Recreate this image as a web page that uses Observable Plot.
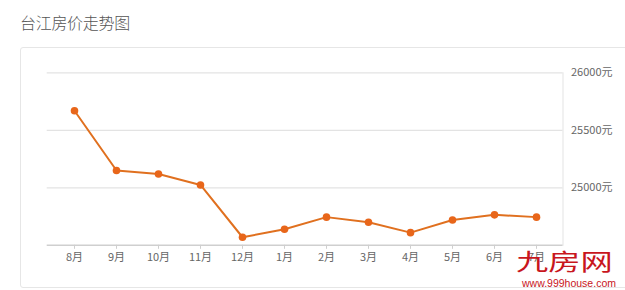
<!DOCTYPE html>
<html>
<head>
<meta charset="utf-8">
<script src="https://cdn.jsdelivr.net/npm/d3@7"></script>
<script src="https://cdn.jsdelivr.net/npm/@observablehq/plot@0.6"></script>
<style>
  html, body { margin: 0; padding: 0; background: #fff; width: 625px; height: 290px; overflow: hidden; }
  body { font-family: "Noto Sans CJK SC", "Noto Sans", sans-serif; position: relative; }
  #title { position: absolute; left: 20px; top: 10px; font-size: 16px; color: #555; letter-spacing: -0.3px; font-weight: 300; }
  #frame { position: absolute; left: 20px; top: 47px; width: 640px; height: 241px; border: 1px solid #e6e6e6; border-radius: 3px; box-sizing: border-box; }
  #chart { position: absolute; left: 0; top: 47px; }
  #wm1 { position: absolute; left: 516px; top: 248.5px; font-size: 23px; color: #c8161d; line-height: 23px; height: 23px; transform: scaleX(1.4); transform-origin: left center; white-space: nowrap; }
  #wm2 { position: absolute; left: 522px; top: 277px; font-size: 10.5px; color: #c8161d; font-family: "Liberation Sans", sans-serif; line-height: 12px; white-space: nowrap; }
</style>
</head>
<body>
<div id="title">台江房价走势图</div>
<div id="frame"></div>
<div id="chart"></div>
<div id="wm1">九房网</div>
<div id="wm2">www.999house.com</div>
<script>
const months = ["8月","9月","10月","11月","12月","1月","2月","3月","4月","5月","6月","7月"];
const prices = [25670, 25150, 25120, 25025, 24570, 24640, 24745, 24700, 24610, 24720, 24765, 24745];
const yTicks = [25000, 25500, 26000];
const yDomain = [24500, 26000];

const data = months.map((m, i) => ({month: m, price: prices[i]}));

const chart = Plot.plot({
  width: 625,
  height: 243,
  marginLeft: 46.7,
  marginRight: 62.5,
  marginTop: 25.3,
  marginBottom: 45.2,
  style: {fontFamily: '"Noto Sans CJK SC", "Noto Sans", sans-serif', fontSize: "11px", color: "#666", background: "transparent"},
  x: {type: "point", domain: months, padding: 0.5, label: null},
  y: {domain: yDomain, label: null},
  marks: [
    Plot.ruleY(yTicks, {stroke: "#e3e3e3", strokeWidth: 1.2}),
    Plot.frame({anchor: "right", stroke: "#e3e3e3"}),
    Plot.ruleY([yDomain[0]], {stroke: "#cfcfcf", strokeWidth: 1.5}),
    Plot.axisX({tickSize: 4, tickPadding: 4, stroke: "#cfcfcf", fill: "#666", label: null}),
    Plot.axisY(yTicks, {anchor: "right", tickSize: 0, tickPadding: 8, tickFormat: d => d + "元", fill: "#666", label: null}),
    Plot.line(data, {x: "month", y: "price", stroke: "#e0701f", strokeWidth: 2}),
    Plot.dot(data, {x: "month", y: "price", r: 3.8, fill: "#e8661a", stroke: "none"})
  ]
});
document.getElementById("chart").appendChild(chart);
</script>
</body>
</html>
